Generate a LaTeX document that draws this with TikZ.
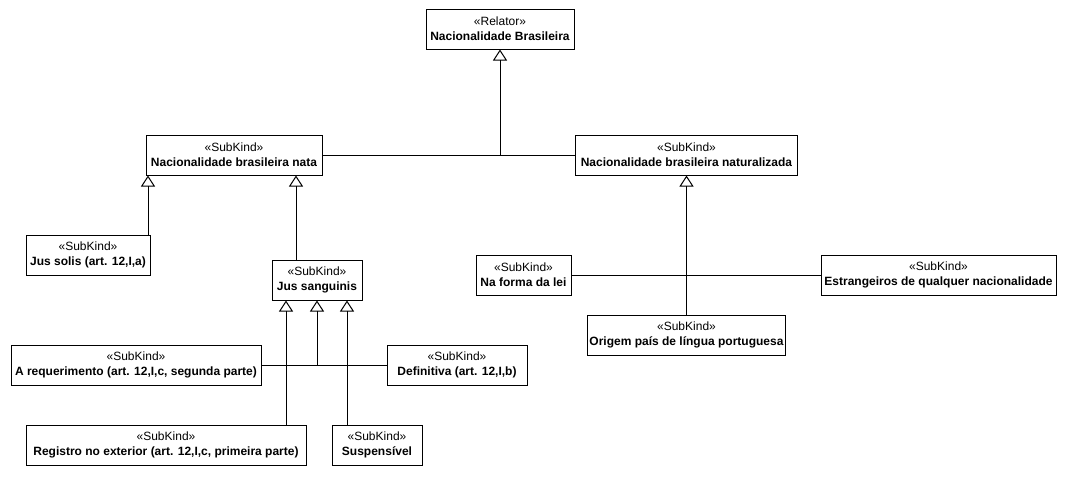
\documentclass[tikz,border=0pt]{standalone}
\usepackage{fontspec}
\setmainfont{Liberation Sans}
\usetikzlibrary{arrows.meta,positioning}
\tikzset{
  kind/.style={draw, align=center, minimum height=40pt, inner sep=2pt, line width=1pt, font=\fontsize{12}{15}\selectfont},
  gen/.style={-{Triangle[open, length=11pt, width=14pt]}, line width=1pt},
  link/.style={line width=1pt}
}

\begin{document}
\begin{tikzpicture}[x=1pt, y=-1pt]
  \fill[white] (0,0) rectangle (1069,480);

  \node[kind, minimum width=148pt] (rel) at (500,29) {«Relator»\\\textbf{Nacionalidade Brasileira}};
  \node[kind, minimum width=176pt] (nat) at (234,155) {«SubKind»\\\textbf{Nacionalidade brasileira nata}};
  \node[kind, minimum width=222pt] (natz) at (686.5,155) {«SubKind»\\\textbf{Nacionalidade brasileira naturalizada}};
  \node[kind, minimum width=124pt] (solis) at (88,255) {«SubKind»\\\textbf{Jus solis (art. 12,I,a)}};
  \node[kind, minimum width=90pt] (sang) at (317,280) {«SubKind»\\\textbf{Jus sanguinis}};
  \node[kind, minimum width=250pt] (req) at (136,365) {«SubKind»\\\textbf{A requerimento (art. 12,I,c, segunda parte)}};
  \node[kind, minimum width=140pt] (defi) at (457,365) {«SubKind»\\\textbf{Definitiva (art. 12,I,b)}};
  \node[kind, minimum width=280pt] (reg) at (166,445) {«SubKind»\\\textbf{Registro no exterior (art. 12,I,c, primeira parte)}};
  \node[kind, minimum width=90pt] (susp) at (377,445) {«SubKind»\\\textbf{Suspensível}};
  \node[kind, minimum width=95pt] (forma) at (523.5,275) {«SubKind»\\\textbf{Na forma da lei}};
  \node[kind, minimum width=235pt] (estr) at (938.5,275) {«SubKind»\\\textbf{Estrangeiros de qualquer nacionalidade}};
  \node[kind, minimum width=198pt] (orig) at (686.5,335) {«SubKind»\\\textbf{Origem país de língua portuguesa}};

  % generalization set under the relator
  \coordinate (j0) at (rel.south |- nat.east);
  \draw[link] (nat.east) -- (natz.west);
  \draw[gen] (j0) -- (rel.south);

  % children of nata
  \coordinate (n1) at ([xshift=-86pt]nat.south);
  \coordinate (n2) at ([xshift=62pt]nat.south);
  \draw[gen] (n1 |- solis.north) -- (n1);
  \draw[gen] (n2 |- sang.north) -- (n2);

  % children of jus sanguinis
  \coordinate (s1) at ([xshift=-31pt]sang.south);
  \coordinate (s3) at ([xshift=30pt]sang.south);
  \coordinate (j1) at (sang.south |- req.east);
  \draw[link] (req.east) -- (defi.west);
  \draw[gen] (j1) -- (sang.south);
  \draw[gen] (s1 |- reg.north) -- (s1);
  \draw[gen] (s3 |- susp.north) -- (s3);

  % children of naturalizada
  \draw[link] (forma.east) -- (estr.west);
  \draw[gen] (natz.south |- orig.north) -- (natz.south);
\end{tikzpicture}
\end{document}
